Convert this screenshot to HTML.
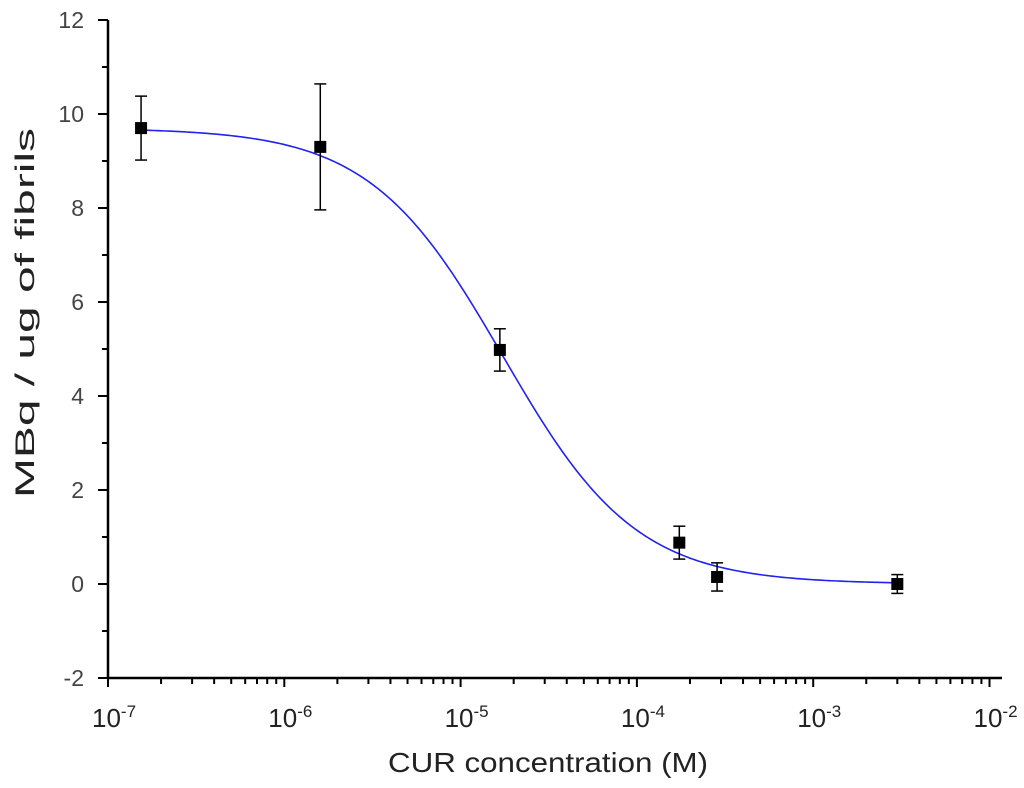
<!DOCTYPE html>
<html><head><meta charset="utf-8"><style>
body{margin:0;background:#fff;}
svg{display:block;font-family:"Liberation Sans",Arial,sans-serif;}
</style></head><body>
<svg id="chart" width="1024" height="788" viewBox="0 0 1024 788" xmlns="http://www.w3.org/2000/svg">
<g id="axes"></g>
<g id="marks"></g>
<text x="388" y="772" font-size="28" textLength="320" lengthAdjust="spacingAndGlyphs" fill="#222">CUR concentration (M)</text>
<text transform="translate(34,498) rotate(-90)" font-size="27" textLength="370" lengthAdjust="spacingAndGlyphs" fill="#222">MBq / ug of fibrils</text>
</svg>
<script>
const concentrations=[1.54e-7,1.6e-6,1.67e-5,1.74e-4,2.85e-4,3.0e-3];
const means=[9.7,9.3,4.98,0.88,0.15,0.0];
const errors=[0.68,1.34,0.45,0.35,0.3,0.2];
const yTicks=[-2,0,2,4,6,8,10,12];
const xExponents=[-7,-6,-5,-4,-3,-2];
const fitTop=9.7, fitBottom=0, fitLogIC50=-4.76, fitHill=1.15;

const NS="http://www.w3.org/2000/svg";
const X0=108, DEC=176.3, Y0=584, YU=47;
const xs=v=>X0+(Math.log10(v)+7)*DEC;
const ys=v=>Y0-v*YU;
function mk(tag,attrs,parent){const e=document.createElementNS(NS,tag);for(const k in attrs)e.setAttribute(k,attrs[k]);parent.appendChild(e);return e;}
const axes=document.getElementById('axes'), marks=document.getElementById('marks');

let a=mk('line',{x1:X0,y1:ys(12),x2:X0,y2:ys(-2)+1,stroke:'#000','stroke-width':2.5},axes);


a=mk('line',{x1:X0-1,y1:ys(-2),x2:1002,y2:ys(-2),stroke:'#000','stroke-width':2.5},axes);



yTicks.forEach(v=>{
  const t=mk('line',{x1:X0-10,y1:ys(v),x2:X0,y2:ys(v),stroke:'#000','stroke-width':2},axes);
  
  
  if(v<12){const m=mk('line',{x1:X0-6,y1:ys(v+1),x2:X0,y2:ys(v+1),stroke:'#000','stroke-width':2},axes);
  
  }
  const l=mk('text',{x:X0-24,y:ys(v)+8,'font-size':23,'text-anchor':'end',fill:'#444'},axes);
  l.textContent=v;
  
  
});
xExponents.forEach((e,i)=>{
  const x=xs(Math.pow(10,e));
  const t=mk('line',{x1:x,y1:ys(-2),x2:x,y2:ys(-2)+9,stroke:'#000','stroke-width':2},axes);
  
  
  if(i<xExponents.length-1){for(let k=2;k<=9;k++){const mx=xs(k*Math.pow(10,e));
    const m=mk('line',{x1:mx,y1:ys(-2),x2:mx,y2:ys(-2)+6,stroke:'#000','stroke-width':2},axes);
    
    }}
  const l=mk('text',{x:x-16,y:ys(-2)+49,'font-size':26,fill:'#222'},axes);
  
  
  l.appendChild(document.createTextNode('10'));
  const s=mk('tspan',{dy:-10,'font-size':17},l); s.textContent=String(e);
});

let d='';
const lx0=Math.log10(concentrations[0]), lx1=Math.log10(concentrations[concentrations.length-1]);
for(let i=0;i<=300;i++){const lx=lx0+(lx1-lx0)*i/300;
  const y=fitBottom+(fitTop-fitBottom)/(1+Math.pow(10,(lx-fitLogIC50)*fitHill));
  d+=(i?'L':'M')+xs(Math.pow(10,lx)).toFixed(2)+','+ys(y).toFixed(2);}
const c=mk('path',{d:d,fill:'none',stroke:'#2222ee','stroke-width':1.6},marks);



concentrations.forEach((cv,i)=>{
  const x=xs(cv), y=ys(means[i]), yt=ys(means[i]+errors[i]), yb=ys(means[i]-errors[i]);
  const g=mk('g',{},marks);
  
  
  mk('line',{x1:x,y1:yt,x2:x,y2:yb,stroke:'#000','stroke-width':1.5},g);
  mk('line',{x1:x-6,y1:yt,x2:x+6,y2:yt,stroke:'#000','stroke-width':1.5},g);
  mk('line',{x1:x-6,y1:yb,x2:x+6,y2:yb,stroke:'#000','stroke-width':1.5},g);
  mk('rect',{x:x-6,y:y-6,width:12,height:12,fill:'#000'},g);
});
</script>
</body></html>
